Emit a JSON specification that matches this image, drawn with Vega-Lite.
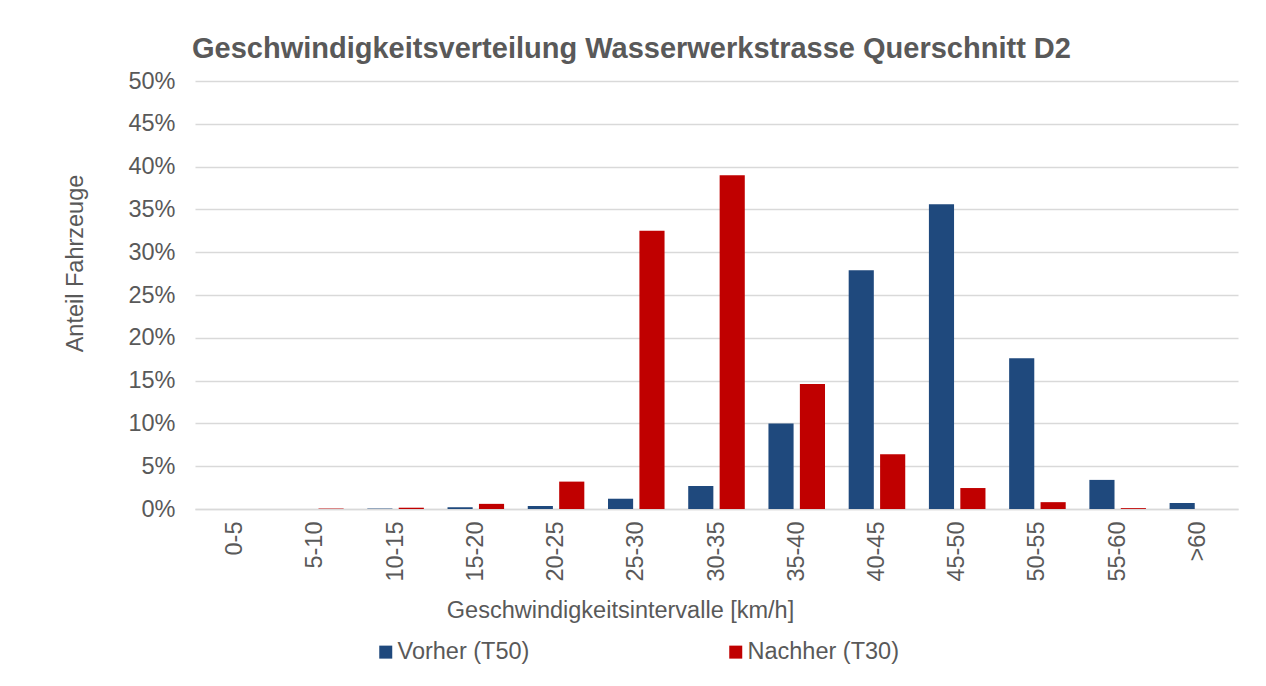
{
  "$schema": "https://vega.github.io/schema/vega-lite/v6.json",
  "width": 1043,
  "height": 428,
  "autosize": {"type": "none"},
  "padding": {"left": 195, "top": 81, "right": 28, "bottom": 177},
  "background": "white",
  "title": {
    "text": "Geschwindigkeitsverteilung Wasserwerkstrasse Querschnitt D2",
    "anchor": "start",
    "frame": "group",
    "dx": -3,
    "dy": 34,
    "offset": 16,
    "baseline": "alphabetic",
    "font": "Liberation Sans",
    "fontSize": 29,
    "fontWeight": "bold",
    "color": "#595959"
  },
  "data": {
    "values": [
      {"Intervall": "0-5", "Zeitraum": "Vorher (T50)", "Anteil": 0.0},
      {"Intervall": "5-10", "Zeitraum": "Vorher (T50)", "Anteil": 0.0},
      {"Intervall": "10-15", "Zeitraum": "Vorher (T50)", "Anteil": 0.0005},
      {"Intervall": "15-20", "Zeitraum": "Vorher (T50)", "Anteil": 0.002},
      {"Intervall": "20-25", "Zeitraum": "Vorher (T50)", "Anteil": 0.0035},
      {"Intervall": "25-30", "Zeitraum": "Vorher (T50)", "Anteil": 0.012},
      {"Intervall": "30-35", "Zeitraum": "Vorher (T50)", "Anteil": 0.027},
      {"Intervall": "35-40", "Zeitraum": "Vorher (T50)", "Anteil": 0.100},
      {"Intervall": "40-45", "Zeitraum": "Vorher (T50)", "Anteil": 0.279},
      {"Intervall": "45-50", "Zeitraum": "Vorher (T50)", "Anteil": 0.356},
      {"Intervall": "50-55", "Zeitraum": "Vorher (T50)", "Anteil": 0.176},
      {"Intervall": "55-60", "Zeitraum": "Vorher (T50)", "Anteil": 0.034},
      {"Intervall": ">60", "Zeitraum": "Vorher (T50)", "Anteil": 0.007},
      {"Intervall": "0-5", "Zeitraum": "Nachher (T30)", "Anteil": 0.0},
      {"Intervall": "5-10", "Zeitraum": "Nachher (T30)", "Anteil": 0.0005},
      {"Intervall": "10-15", "Zeitraum": "Nachher (T30)", "Anteil": 0.0015},
      {"Intervall": "15-20", "Zeitraum": "Nachher (T30)", "Anteil": 0.006},
      {"Intervall": "20-25", "Zeitraum": "Nachher (T30)", "Anteil": 0.032},
      {"Intervall": "25-30", "Zeitraum": "Nachher (T30)", "Anteil": 0.325},
      {"Intervall": "30-35", "Zeitraum": "Nachher (T30)", "Anteil": 0.390},
      {"Intervall": "35-40", "Zeitraum": "Nachher (T30)", "Anteil": 0.146},
      {"Intervall": "40-45", "Zeitraum": "Nachher (T30)", "Anteil": 0.064},
      {"Intervall": "45-50", "Zeitraum": "Nachher (T30)", "Anteil": 0.0245},
      {"Intervall": "50-55", "Zeitraum": "Nachher (T30)", "Anteil": 0.008},
      {"Intervall": "55-60", "Zeitraum": "Nachher (T30)", "Anteil": 0.001},
      {"Intervall": ">60", "Zeitraum": "Nachher (T30)", "Anteil": 0.0}
    ]
  },
  "mark": {"type": "bar"},
  "encoding": {
    "x": {
      "field": "Intervall",
      "type": "nominal",
      "sort": ["0-5", "5-10", "10-15", "15-20", "20-25", "25-30", "30-35", "35-40", "40-45", "45-50", "50-55", "55-60", ">60"],
      "scale": {"paddingInner": 0.295, "paddingOuter": 0.1475},
      "axis": {
        "title": "Geschwindigkeitsintervalle [km/h]",
        "titleX": 425,
        "titleY": 108,
        "titleBaseline": "alphabetic",
        "titleAnchor": null,
        "labelAngle": -90,
        "labelPadding": 12,
        "ticks": false,
        "domainColor": "#d9d9d9",
        "domainWidth": 1.5,
        "grid": false
      }
    },
    "xOffset": {
      "field": "Zeitraum",
      "type": "nominal",
      "sort": ["Vorher (T50)", "Nachher (T30)"],
      "scale": {"paddingInner": 0.2, "paddingOuter": 0}
    },
    "y": {
      "field": "Anteil",
      "type": "quantitative",
      "scale": {"domain": [0, 0.5], "nice": false},
      "axis": {
        "title": "Anteil Fahrzeuge",
        "titleX": -113,
        "titleY": 182,
        "titleAngle": -90,
        "titleAlign": "center",
        "titleBaseline": "alphabetic",
        "values": [0, 0.05, 0.1, 0.15, 0.2, 0.25, 0.3, 0.35, 0.4, 0.45, 0.5],
        "format": ".0%",
        "labelPadding": 20,
        "ticks": false,
        "domain": false,
        "grid": true,
        "gridColor": "#d9d9d9",
        "gridWidth": 1.5
      }
    },
    "color": {
      "field": "Zeitraum",
      "type": "nominal",
      "sort": ["Vorher (T50)", "Nachher (T30)"],
      "scale": {"domain": ["Vorher (T50)", "Nachher (T30)"], "range": ["#1F497D", "#C00000"]},
      "legend": {
        "title": null,
        "orient": "none",
        "direction": "horizontal",
        "legendX": 179,
        "legendY": 559,
        "symbolType": "square",
        "symbolSize": 169,
        "symbolStrokeWidth": 0,
        "symbolOpacity": 1,
        "labelOffset": 0,
        "columnPadding": 194,
        "labelFontSize": 23.5,
        "labelFont": "Liberation Sans",
        "labelColor": "#595959",
        "labelLimit": 300
      }
    }
  },
  "config": {
    "view": {"stroke": null},
    "axis": {
      "labelFont": "Liberation Sans",
      "labelFontSize": 23.5,
      "labelColor": "#595959",
      "titleFont": "Liberation Sans",
      "titleFontSize": 23.5,
      "titleFontWeight": "normal",
      "titleColor": "#595959"
    }
  }
}
